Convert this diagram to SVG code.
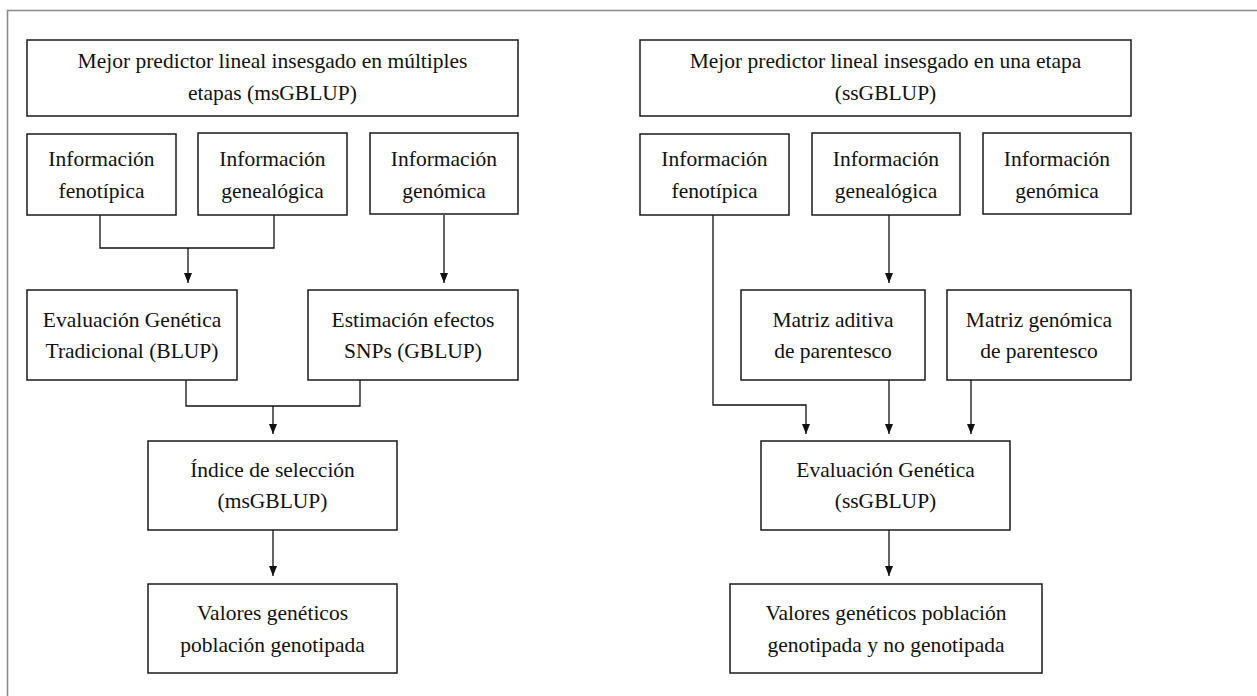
<svg xmlns="http://www.w3.org/2000/svg" width="1257" height="696" viewBox="0 0 1257 696">
<style>
.box{fill:#fff;stroke:#1a1a1a;stroke-width:1.5}
text{font-family:'Liberation Serif','DejaVu Serif',serif;font-size:21.5px;fill:#111;text-anchor:middle}
.c{fill:none;stroke:#111;stroke-width:1.3}
.frame{fill:none;stroke:#8a8a8a;stroke-width:1.6}
</style>
<defs>
<marker id="ah" viewBox="0 0 10 10" refX="10" refY="5" markerWidth="10" markerHeight="10" markerUnits="userSpaceOnUse" orient="auto">
<path d="M0,1 L10,5 L0,9 Z" fill="#111"/>
</marker>
</defs>
<rect width="1257" height="696" fill="#fff"/>
<path class="frame" d="M7.5,696 V10.5 H1257"/>

<g id="connectors">
<path class="c" d="M100,215 V248 H274 V215"/>
<path class="c" d="M188,248 V283" marker-end="url(#ah)"/>
<path class="c" d="M444,215 V283" marker-end="url(#ah)"/>
<path class="c" d="M186,380 V406 H360 V380"/>
<path class="c" d="M273,406 V434" marker-end="url(#ah)"/>
<path class="c" d="M273,530 V576" marker-end="url(#ah)"/>
<path class="c" d="M713,215 V405 H806 V434" marker-end="url(#ah)"/>
<path class="c" d="M889,215 V283" marker-end="url(#ah)"/>
<path class="c" d="M889,380 V434" marker-end="url(#ah)"/>
<path class="c" d="M971,380 V434" marker-end="url(#ah)"/>
<path class="c" d="M889,530 V576" marker-end="url(#ah)"/>
</g>

<g id="ms-title"><rect class="box" x="27" y="40" width="491" height="76"/>
<text x="272.5" y="68">Mejor predictor lineal insesgado en múltiples</text>
<text x="272.5" y="100">etapas (msGBLUP)</text></g>

<g id="ms-fenotipica"><rect class="box" x="27" y="134" width="149" height="81"/>
<text x="101.5" y="166">Información</text>
<text x="101.5" y="198">fenotípica</text></g>

<g id="ms-genealogica"><rect class="box" x="198" y="133" width="149" height="82"/>
<text x="272.5" y="166">Información</text>
<text x="272.5" y="198">genealógica</text></g>

<g id="ms-genomica"><rect class="box" x="370" y="133" width="148" height="81"/>
<text x="444" y="166">Información</text>
<text x="444" y="198">genómica</text></g>

<g id="ms-blup"><rect class="box" x="27" y="290" width="210" height="90"/>
<text x="132" y="327">Evaluación Genética</text>
<text x="132" y="358">Tradicional (BLUP)</text></g>

<g id="ms-gblup"><rect class="box" x="308" y="290" width="210" height="90"/>
<text x="413" y="327">Estimación efectos</text>
<text x="413" y="358">SNPs (GBLUP)</text></g>

<g id="ms-indice"><rect class="box" x="148" y="441" width="249" height="89"/>
<text x="272.5" y="477">Índice de selección</text>
<text x="272.5" y="508">(msGBLUP)</text></g>

<g id="ms-valores"><rect class="box" x="148" y="584" width="249" height="89"/>
<text x="272.5" y="620">Valores genéticos</text>
<text x="272.5" y="652">población genotipada</text></g>

<g id="ss-title"><rect class="box" x="640" y="40" width="491" height="76"/>
<text x="885.5" y="68">Mejor predictor lineal insesgado en una etapa</text>
<text x="885.5" y="100">(ssGBLUP)</text></g>

<g id="ss-fenotipica"><rect class="box" x="640" y="134" width="149" height="81"/>
<text x="714.5" y="166">Información</text>
<text x="714.5" y="198">fenotípica</text></g>

<g id="ss-genealogica"><rect class="box" x="812" y="133" width="148" height="82"/>
<text x="886" y="166">Información</text>
<text x="886" y="198">genealógica</text></g>

<g id="ss-genomica"><rect class="box" x="983" y="133" width="148" height="81"/>
<text x="1057" y="166">Información</text>
<text x="1057" y="198">genómica</text></g>

<g id="ss-aditiva"><rect class="box" x="741" y="290" width="184" height="90"/>
<text x="833" y="327">Matriz aditiva</text>
<text x="833" y="358">de parentesco</text></g>

<g id="ss-genomica-m"><rect class="box" x="947" y="290" width="184" height="90"/>
<text x="1039" y="327">Matriz genómica</text>
<text x="1039" y="358">de parentesco</text></g>

<g id="ss-evaluacion"><rect class="box" x="761" y="441" width="249" height="89"/>
<text x="885.5" y="477">Evaluación Genética</text>
<text x="885.5" y="508">(ssGBLUP)</text></g>

<g id="ss-valores"><rect class="box" x="730" y="584" width="312" height="89"/>
<text x="886" y="620">Valores genéticos población</text>
<text x="886" y="652">genotipada y no genotipada</text></g>
</svg>
